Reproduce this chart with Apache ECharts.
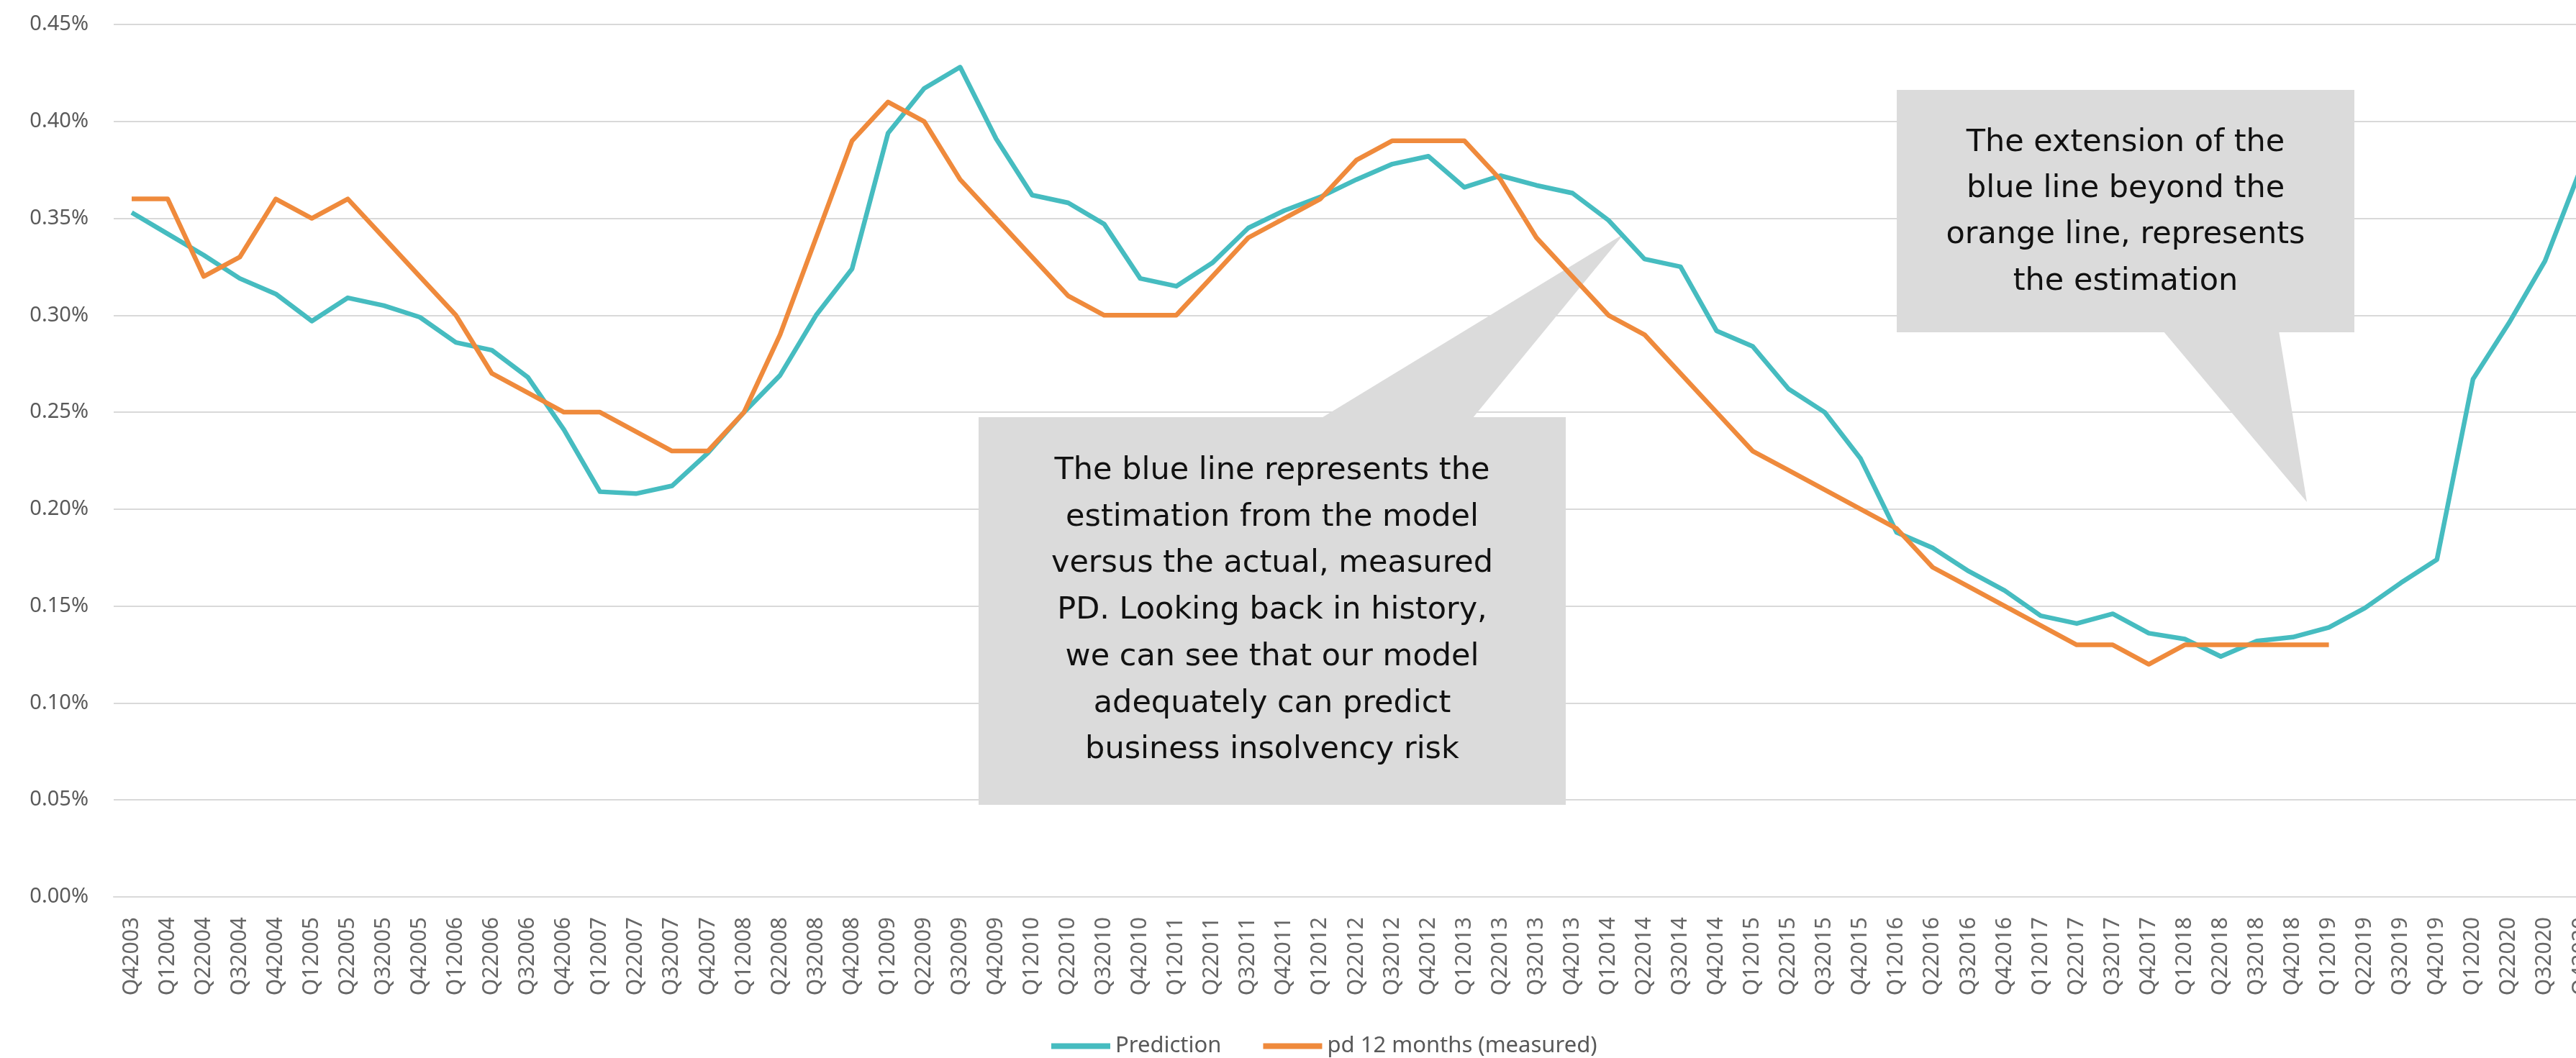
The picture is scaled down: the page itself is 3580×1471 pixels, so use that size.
<!DOCTYPE html>
<html>
<head>
<meta charset="utf-8">
<script src="https://cdn.jsdelivr.net/npm/echarts@6/dist/echarts.min.js"></script>
<style>
html,body{margin:0;padding:0;background:#fff;overflow:hidden;width:3580px;height:1471px;}
#chart{width:3612px;height:1471px;}
</style>
</head>
<body>
<div id="chart"></div>
<script>
var categories = [
  'Q42003',
  'Q12004','Q22004','Q32004','Q42004',
  'Q12005','Q22005','Q32005','Q42005',
  'Q12006','Q22006','Q32006','Q42006',
  'Q12007','Q22007','Q32007','Q42007',
  'Q12008','Q22008','Q32008','Q42008',
  'Q12009','Q22009','Q32009','Q42009',
  'Q12010','Q22010','Q32010','Q42010',
  'Q12011','Q22011','Q32011','Q42011',
  'Q12012','Q22012','Q32012','Q42012',
  'Q12013','Q22013','Q32013','Q42013',
  'Q12014','Q22014','Q32014','Q42014',
  'Q12015','Q22015','Q32015','Q42015',
  'Q12016','Q22016','Q32016','Q42016',
  'Q12017','Q22017','Q32017','Q42017',
  'Q12018','Q22018','Q32018','Q42018',
  'Q12019','Q22019','Q32019','Q42019',
  'Q12020','Q22020','Q32020','Q42020'
];

var prediction = [
  0.353,
  0.342,0.331,0.319,0.311,
  0.297,0.309,0.305,0.299,
  0.286,0.282,0.268,0.241,
  0.209,0.208,0.212,0.229,
  0.250,0.269,0.300,0.324,
  0.394,0.417,0.428,0.391,
  0.362,0.358,0.347,0.319,
  0.315,0.327,0.345,0.354,
  0.361,0.370,0.378,0.382,
  0.366,0.372,0.367,0.363,
  0.349,0.329,0.325,0.292,
  0.284,0.262,0.250,0.226,
  0.188,0.180,0.168,0.158,
  0.145,0.141,0.146,0.136,
  0.133,0.124,0.132,0.134,
  0.139,0.149,0.162,0.174,
  0.267,0.296,0.328,0.376
];

var measured = [
  0.36,
  0.36,0.32,0.33,0.36,
  0.35,0.36,0.34,0.32,
  0.30,0.27,0.26,0.25,
  0.25,0.24,0.23,0.23,
  0.25,0.29,0.34,0.39,
  0.41,0.40,0.37,0.35,
  0.33,0.31,0.30,0.30,
  0.30,0.32,0.34,0.35,
  0.36,0.38,0.39,0.39,
  0.39,0.37,0.34,0.32,
  0.30,0.29,0.27,0.25,
  0.23,0.22,0.21,0.20,
  0.19,0.17,0.16,0.15,
  0.14,0.13,0.13,0.12,
  0.13,0.13,0.13,0.13,
  0.13
];

var seriesNames = ['Prediction', 'pd 12 months (measured)'];
var yTicks = { min: 0, max: 0.45, interval: 0.05 };

var calloutLeft = [
  'The blue line represents the',
  'estimation from the model',
  'versus the actual, measured',
  'PD. Looking back in history,',
  'we can see that our model',
  'adequately can predict',
  'business insolvency risk'
];
var calloutRight = [
  'The extension of the',
  'blue line beyond the',
  'orange line, represents',
  'the estimation'
];

var TEAL = '#46BCC0';
var ORANGE = '#EF8A3C';
var BOX = '#dbdbdb';
var calloutFont = '43px "DejaVu Sans"';

var chart = echarts.init(document.getElementById('chart'), null, {renderer: 'canvas', width: 3612, height: 1471});
var option = {
  backgroundColor: '#ffffff',
  animation: false,
  grid: {
    left: 158,
    top: 34,
    right: 0,
    bottom: 224,
    containLabel: false
  },
  legend: {
    data: seriesNames,
    left: 1456,
    top: 1434,
    icon: 'rect',
    itemWidth: 82,
    itemHeight: 8,
    itemGap: 58,
    textStyle: {
      fontFamily: 'Noto Sans',
      fontSize: 31,
      color: '#595959',
      padding: [0, 0, 0, 2]
    }
  },
  xAxis: {
    type: 'category',
    data: categories,
    boundaryGap: true,
    axisLine: { show: true, lineStyle: { color: '#d9d9d9', width: 2 } },
    axisTick: { show: false },
    axisLabel: {
      interval: 0,
      rotate: 90,
      margin: 28,
      fontFamily: 'Noto Sans',
      fontSize: 30,
      color: '#666666'
    },
    splitLine: { show: false }
  },
  yAxis: {
    type: 'value',
    min: yTicks.min,
    max: yTicks.max,
    interval: yTicks.interval,
    axisLine: { show: false },
    axisTick: { show: false },
    axisLabel: {
      margin: 35,
      fontFamily: 'Noto Sans',
      fontSize: 29,
      color: '#595959',
      formatter: function (v) { return v.toFixed(2) + '%'; }
    },
    splitLine: { show: true, lineStyle: { color: '#d9d9d9', width: 2 } }
  },
  series: [
    {
      name: seriesNames[0],
      type: 'line',
      data: prediction,
      symbol: 'none',
      smooth: false,
      lineStyle: { color: TEAL, width: 6.5, join: 'round' },
      itemStyle: { color: TEAL },
      z: 3
    },
    {
      name: seriesNames[1],
      type: 'line',
      data: measured,
      symbol: 'none',
      smooth: false,
      lineStyle: { color: ORANGE, width: 6.5, join: 'round' },
      itemStyle: { color: ORANGE },
      z: 4
    }
  ],
  graphic: [
    { type: 'polygon', z: 1, shape: { points: [[1835, 582], [2046, 582], [2257, 325]] }, style: { fill: BOX } },
    { type: 'rect', z: 1, shape: { x: 1360, y: 580, width: 816, height: 539 }, style: { fill: BOX } },
    { type: 'text', z: 5, x: 1768, y: 849, style: { text: calloutLeft.join('\n'), font: calloutFont, fill: '#111111', align: 'center', verticalAlign: 'middle', lineHeight: 64.7 } },
    { type: 'polygon', z: 1, shape: { points: [[3006, 460], [3167, 460], [3206, 698]] }, style: { fill: BOX } },
    { type: 'rect', z: 1, shape: { x: 2636, y: 125, width: 636, height: 337 }, style: { fill: BOX } },
    { type: 'text', z: 5, x: 2954, y: 295, style: { text: calloutRight.join('\n'), font: calloutFont, fill: '#111111', align: 'center', verticalAlign: 'middle', lineHeight: 64.3 } }
  ]
};
chart.setOption(option);
</script>
</body>
</html>
